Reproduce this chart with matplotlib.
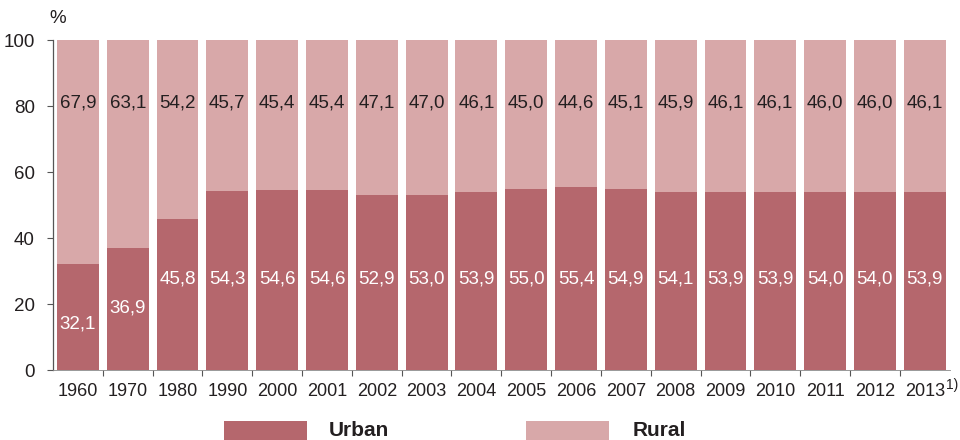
import matplotlib.pyplot as plt
from matplotlib.patches import Rectangle

plt.rcParams['font.family'] = ['Liberation Sans', 'DejaVu Sans']

years = ['1960', '1970', '1980', '1990', '2000', '2001', '2002', '2003', '2004',
         '2005', '2006', '2007', '2008', '2009', '2010', '2011', '2012', '2013']
urban = [32.1, 36.9, 45.8, 54.3, 54.6, 54.6, 52.9, 53.0, 53.9,
         55.0, 55.4, 54.9, 54.1, 53.9, 53.9, 54.0, 54.0, 53.9]
rural = [67.9, 63.1, 54.2, 45.7, 45.4, 45.4, 47.1, 47.0, 46.1,
         45.0, 44.6, 45.1, 45.9, 46.1, 46.1, 46.0, 46.0, 46.1]

c_urban = '#b5676d'
c_rural = '#d8a8a9'
txt = '#231f20'

fig = plt.figure(figsize=(9.6, 4.4), dpi=100)
ax = fig.add_axes([0.0552, 0.159, 0.934, 0.750])

x = list(range(len(years)))
ax.bar(x, urban, width=0.84, color=c_urban, linewidth=0)
ax.bar(x, rural, width=0.84, bottom=urban, color=c_rural, linewidth=0)

fmt = lambda v: f'{v:.1f}'.replace('.', ',')
for i in x:
    yu = min(urban[i] - 18, 27.6)
    ax.text(i, yu, fmt(urban[i]), color='white', ha='center', va='center', fontsize=13.5)
    ax.text(i, 81, fmt(rural[i]), color=txt, ha='center', va='center', fontsize=13.5)

ax.set_xlim(-0.5, len(years) - 0.5)
ax.set_ylim(0, 100)
ax.set_yticks([0, 20, 40, 60, 80, 100])
ax.tick_params(axis='y', direction='out', length=4, width=0.8, color='#555555',
               labelsize=13.5, labelcolor=txt, pad=9)
ax.set_xticks(x)
ax.set_xticklabels(years)
ax.tick_params(axis='x', length=0, labelsize=13, labelcolor=txt, pad=9)
ax.set_xticks([i + 0.5 for i in x[:-1]], minor=True)
ax.tick_params(axis='x', which='minor', direction='out', length=4, width=0.8, color='#555555')

for s in ['top', 'right']:
    ax.spines[s].set_visible(False)
ax.spines['left'].set_color('#555555')
ax.spines['left'].set_linewidth(0.9)
ax.spines['bottom'].set_color('#888888')
ax.spines['bottom'].set_linewidth(0.6)

ax.text(-0.4, 104, '%', fontsize=13.5, color=txt, ha='center', va='bottom')
ax.text(17.42, -4.6, '1)', fontsize=10, color=txt, ha='left', va='center')

# legend
fig.patches.append(Rectangle((224 / 960, 0), 83 / 960, 19 / 440, transform=fig.transFigure,
                             color=c_urban, lw=0))
fig.text(329 / 960, 10 / 440, 'Urban', fontsize=15, fontweight='bold', color=txt, va='center')
fig.patches.append(Rectangle((526 / 960, 0), 83 / 960, 19 / 440, transform=fig.transFigure,
                             color=c_rural, lw=0))
fig.text(633 / 960, 10 / 440, 'Rural', fontsize=15, fontweight='bold', color=txt, va='center')

fig.savefig('out.png', dpi=100)
